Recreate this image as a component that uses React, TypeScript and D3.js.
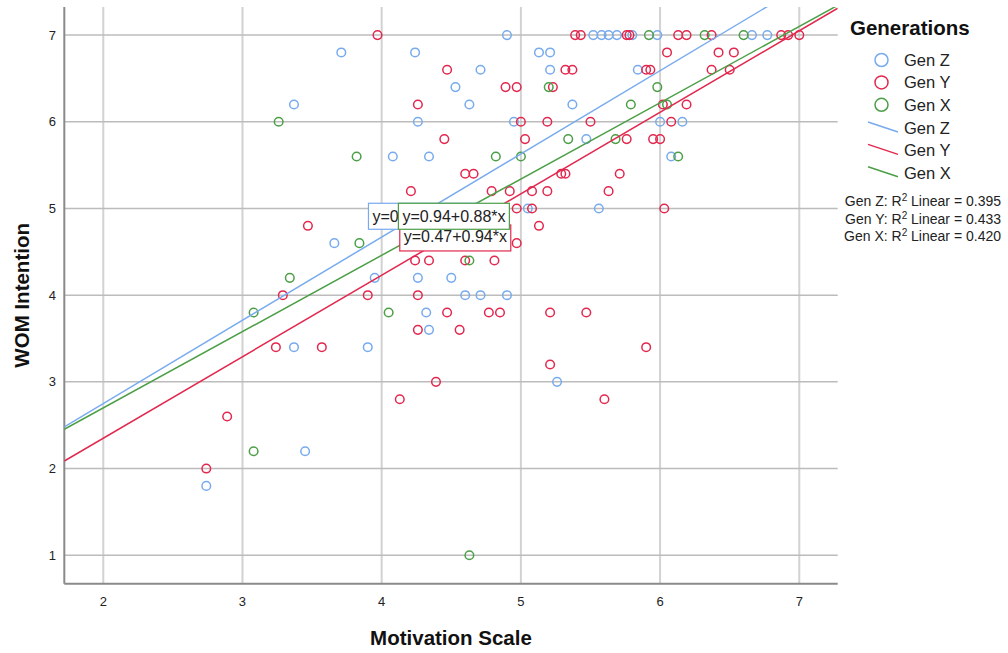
import React from "react";
import * as d3 from "d3";

const groups = ["Gen Z", "Gen Y", "Gen X"];
const colors = ["#78abee", "#e2284e", "#4c9f47"];

const genZ: [number, number][] = [
  [3.37, 6.2], [3.71, 6.8], [4.24, 6.8], [4.9, 7.0], [5.13, 6.8], [5.21, 6.8], [4.71, 6.6], [5.21, 6.6],
  [4.53, 6.4], [4.63, 6.2], [5.37, 6.2], [4.26, 6.0], [4.95, 6.0], [4.08, 5.6], [4.34, 5.6],
  [5.52, 7], [5.58, 7], [5.63, 7], [5.69, 7], [5.8, 7], [5.98, 7], [6.66, 7], [6.77, 7], [5.84, 6.6],
  [6.0, 6.0], [6.16, 6.0], [5.47, 5.8], [6.08, 5.6], [5.05, 5.0], [3.66, 4.6], [3.95, 4.2], [4.26, 4.2],
  [4.5, 4.2], [4.6, 4.0], [4.71, 4.0], [4.9, 4.0], [4.32, 3.8], [4.34, 3.6], [3.9, 3.4], [5.26, 3.0],
  [5.56, 5.0], [3.37, 3.4], [3.45, 2.2], [2.74, 1.8],
];
const genY: [number, number][] = [
  [3.97, 7.0], [5.39, 7.0], [5.43, 7.0], [4.47, 6.6], [5.32, 6.6], [5.37, 6.6], [4.89, 6.4], [4.97, 6.4],
  [5.23, 6.4], [4.26, 6.2], [5.0, 6.0], [5.19, 6.0], [4.45, 5.8], [5.03, 5.8], [4.6, 5.4], [4.66, 5.4],
  [5.29, 5.4], [5.32, 5.4], [4.21, 5.2], [4.79, 5.2], [4.92, 5.2], [5.08, 5.2], [5.19, 5.2],
  [5.76, 7], [5.78, 7], [6.13, 7], [6.19, 7], [6.37, 7], [6.87, 7], [6.92, 7], [7.0, 7], [6.05, 6.8],
  [6.42, 6.8], [6.53, 6.8], [5.9, 6.6], [5.93, 6.6], [6.37, 6.6], [6.5, 6.6], [6.02, 6.2], [6.19, 6.2],
  [5.5, 6.0], [6.08, 6.0], [5.76, 5.8], [5.95, 5.8], [6.0, 5.8], [5.71, 5.4], [5.63, 5.2],
  [3.47, 4.8], [3.29, 4.0], [3.24, 3.4], [3.57, 3.4], [4.97, 5.0], [5.08, 5.0], [5.13, 4.8], [4.97, 4.6],
  [4.24, 4.4], [4.34, 4.4], [4.6, 4.4], [4.81, 4.4], [3.9, 4.0], [4.26, 4.0], [4.47, 3.8], [4.77, 3.8],
  [4.85, 3.8], [5.21, 3.8], [4.26, 3.6], [4.56, 3.6], [5.21, 3.2], [4.39, 3.0], [4.13, 2.8], [6.03, 5.0],
  [5.47, 3.8], [5.9, 3.4], [5.6, 2.8], [2.89, 2.6], [2.74, 2.0],
];
const genX: [number, number][] = [
  [3.26, 6.0], [5.2, 6.4], [5.34, 5.8], [3.82, 5.6], [4.82, 5.6], [5.0, 5.6], [5.92, 7], [6.32, 7],
  [6.6, 7], [5.98, 6.4], [5.79, 6.2], [6.05, 6.2], [5.68, 5.8], [6.13, 5.6], [3.34, 4.2], [3.08, 3.8],
  [3.84, 4.6], [4.63, 4.4], [4.05, 3.8], [3.08, 2.2], [4.63, 1.0],
];
const series = [genZ, genY, genX];

const intercepts = [0.83, 0.47, 0.94];
const slopes = [0.96, 0.94, 0.88];
const rSquared = ["0.395", "0.433", "0.420"];
// equation label anchors (data coords: left, top)
const labelPos: [number, number][] = [[3.905, 5.06], [4.13, 4.81], [4.12, 5.06]];
const labelOrder = [0, 1, 2];

const xTicks = [2, 3, 4, 5, 6, 7];
const yTicks = [1, 2, 3, 4, 5, 6, 7];

const W = 1008, H = 653;
const L = 64.3, R = 837.7, T = 7, B = 583.7;
const FONT = "'Liberation Sans', Arial, sans-serif";

export default function App() {
  const x = d3.scaleLinear().domain([1.72, 7.276]).range([L, R]);
  const y = d3.scaleLinear().domain([0.672, 7.324]).range([B, T]);

  const fitPath = (k: number) => {
    const [x0, x1] = x.domain();
    const g = d3.line<number>().x((v) => x(v)).y((v) => y(intercepts[k] + slopes[k] * v));
    return g([x0, x1]) || "";
  };

  const eq = (k: number) => `y=${intercepts[k].toFixed(2)}+${slopes[k].toFixed(2)}*x`;

  return (
    <svg width={W} height={H} style={{ position: "absolute", left: 0, top: 0, background: "#fff" }} fontFamily={FONT}>
      <defs>
        <clipPath id="plotclip">
          <rect x={L} y={T} width={R - L} height={B - T} />
        </clipPath>
      </defs>
      {xTicks.map((t) => (
        <line key={"vx" + t} x1={x(t)} x2={x(t)} y1={T} y2={B} stroke="#d2d2d2" strokeWidth={2} />
      ))}
      {yTicks.map((t) => (
        <line key={"hy" + t} x1={L} x2={R} y1={y(t)} y2={y(t)} stroke="#bcbcbc" strokeWidth={1.5} />
      ))}
      <line x1={L} x2={L} y1={T} y2={B} stroke="#8a8a8a" strokeWidth={2} />
      <line x1={L} x2={R} y1={B} y2={B} stroke="#8a8a8a" strokeWidth={2} />

      {xTicks.map((t) => (
        <text key={"tx" + t} x={x(t)} y={606} textAnchor="middle" fontSize={13} fill="#222">{t}</text>
      ))}
      {yTicks.map((t) => (
        <text key={"ty" + t} x={56} y={y(t) + 4.5} textAnchor="end" fontSize={13} fill="#222">{t}</text>
      ))}

      <text x={(L + R) / 2} y={645} textAnchor="middle" fontSize={20.5} fontWeight="bold" fill="#111">Motivation Scale</text>
      <text transform={`translate(29,${(T + B) / 2}) rotate(-90)`} textAnchor="middle" fontSize={20.5} fontWeight="bold" fill="#111">WOM Intention</text>

      <g clipPath="url(#plotclip)">
        {series.map((pts, k) => (
          <g key={"s" + k}>
            {pts.map((p, i) => (
              <circle key={i} cx={x(p[0])} cy={y(p[1])} r={4.3} fill="none" stroke={colors[k]} strokeWidth={1.5} />
            ))}
          </g>
        ))}
        {series.map((_, k) => (
          <path key={"f" + k} d={fitPath(k)} fill="none" stroke={colors[k]} strokeWidth={1.5} />
        ))}
      </g>

      {labelOrder.map((k) => {
        const lx = x(labelPos[k][0]);
        const ty = y(labelPos[k][1]);
        return (
          <g key={"lab" + k}>
            <rect x={lx} y={ty} width={111} height={26} fill="#fff" stroke={colors[k]} strokeWidth={1.2} />
            <text x={lx + 4} y={ty + (k === 1 ? 17 : 19)} fontSize={16} fill="#222">{eq(k)}</text>
          </g>
        );
      })}

      <text x={850} y={35} fontSize={20.5} fontWeight="bold" fill="#111">Generations</text>
      {groups.map((gname, k) => (
        <g key={"lg" + k}>
          <circle cx={881.5} cy={60 + k * 22.4} r={6.5} fill="none" stroke={colors[k]} strokeWidth={1.5} />
          <text x={904} y={66 + k * 22.4} fontSize={16.5} fill="#222">{gname}</text>
        </g>
      ))}
      {groups.map((gname, k) => (
        <g key={"ll" + k}>
          <line x1={868} y1={122 + k * 22.4} x2={898} y2={132 + k * 22.4} stroke={colors[k]} strokeWidth={1.5} />
          <text x={904} y={134 + k * 22.4} fontSize={16.5} fill="#222">{gname}</text>
        </g>
      ))}
      {groups.map((gname, k) => (
        <text key={"r2" + k} x={1001} y={206 + k * 17.5} textAnchor="end" fontSize={14} fill="#222">
          {gname}: R<tspan dy={-5} fontSize={10}>2</tspan><tspan dy={5}> Linear = {rSquared[k]}</tspan>
        </text>
      ))}
    </svg>
  );
}
